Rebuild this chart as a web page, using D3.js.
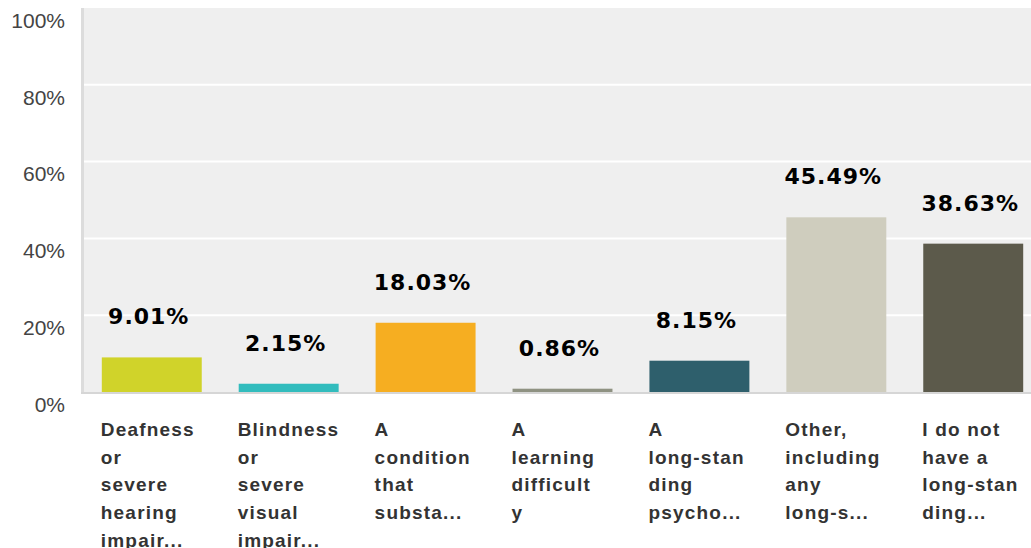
<!DOCTYPE html>
<html>
<head>
<meta charset="utf-8">
<script src="https://cdn.jsdelivr.net/npm/d3@7"></script>
<style>
  body { margin: 0; background: #fff; }
  .ytick { font-family: "Liberation Sans", Arial, sans-serif; font-size: 21px; fill: #444; }
  .val { font-family: "DejaVu Sans", sans-serif; font-weight: bold; font-size: 22px; fill: #000; letter-spacing: 1px; }
  .cat { font-family: "Liberation Sans", Arial, sans-serif; font-weight: bold; font-size: 19px; fill: #333; letter-spacing: 1.2px; }
</style>
</head>
<body>
<div class="graph"></div>
<script>
var categories = [
  ["Deafness", "or", "severe", "hearing", "impair..."],
  ["Blindness", "or", "severe", "visual", "impair..."],
  ["A", "condition", "that", "substa..."],
  ["A", "learning", "difficult", "y"],
  ["A", "long-stan", "ding", "psycho..."],
  ["Other,", "including", "any", "long-s..."],
  ["I do not", "have a", "long-stan", "ding..."]
];
var values = [9.01, 2.15, 18.03, 0.86, 8.15, 45.49, 38.63];
var colors = ["#d0d32a", "#32bcbd", "#f6ae21", "#8f9282", "#2e5f6c", "#cfcdbe", "#5c5a4b"];
var yTicks = [0, 20, 40, 60, 80, 100];

var options = { width: 1031, height: 548 },
    plot = { left: 84, top: 8, bottom: 392, right: 1031 };

var svg = d3.select(".graph").append("svg")
    .attr("width", options.width)
    .attr("height", options.height);

var yScale = d3.scaleLinear()
    .domain([0, 100])
    .range([plot.bottom, plot.top]);

var xScale = d3.scaleBand()
    .domain(d3.range(values.length))
    .range([plot.left, plot.left + 957])
    .paddingInner(0.27)
    .paddingOuter(0.13);

// background
svg.append("rect")
    .attr("x", plot.left)
    .attr("y", plot.top)
    .attr("width", plot.right - plot.left)
    .attr("height", plot.bottom - plot.top)
    .attr("fill", "#efefef");

// gridlines
svg.selectAll("line.grid")
    .data(yTicks.filter(function(d) { return d > 0 && d < 100; }))
  .enter().append("line")
    .attr("class", "grid")
    .attr("x1", plot.left)
    .attr("x2", plot.right)
    .attr("y1", function(d) { return yScale(d); })
    .attr("y2", function(d) { return yScale(d); })
    .attr("stroke", "#fff")
    .attr("stroke-width", 2);

// y axis labels
var yAxis = d3.axisLeft(yScale)
    .tickValues(yTicks)
    .tickSize(0)
    .tickPadding(0)
    .tickFormat(function(d) { return d + "%"; });

var yg = svg.append("g")
    .attr("transform", "translate(65,12.5)")
    .call(yAxis);
yg.attr("font-size", null).attr("font-family", null);
yg.select(".domain").remove();
yg.selectAll("text")
    .attr("class", "ytick")
    .attr("fill", null);

// bars
svg.selectAll("rect.bar")
    .data(values)
  .enter().append("rect")
    .attr("class", "bar")
    .attr("x", function(d, i) { return xScale(i); })
    .attr("width", xScale.bandwidth())
    .attr("y", function(d) { return yScale(d); })
    .attr("height", function(d) { return plot.bottom - yScale(d); })
    .attr("fill", function(d, i) { return colors[i]; });

// axis lines
svg.append("rect")
    .attr("x", 81).attr("y", plot.top)
    .attr("width", 3).attr("height", plot.bottom - plot.top + 1)
    .attr("fill", "#dcdcdc");
svg.append("rect")
    .attr("x", 81).attr("y", plot.bottom)
    .attr("width", plot.right - 81).attr("height", 2)
    .attr("fill", "#d6d6d6");

// value labels
svg.selectAll("text.val")
    .data(values)
  .enter().append("text")
    .attr("class", "val")
    .attr("x", function(d, i) { return xScale(i) + xScale.bandwidth() / 2 - 3; })
    .attr("y", function(d) { return yScale(d) - 33; })
    .attr("text-anchor", "middle")
    .text(function(d) { return d.toFixed(2) + "%"; });

// category labels
var cats = svg.selectAll("text.cat")
    .data(categories)
  .enter().append("text")
    .attr("class", "cat")
    .attr("x", function(d, i) { return xScale(i) - 1; })
    .attr("y", 436);

cats.selectAll("tspan")
    .data(function(d) { return d; })
  .enter().append("tspan")
    .attr("x", function() { return d3.select(this.parentNode).attr("x"); })
    .attr("dy", function(d, j) { return j === 0 ? 0 : 27.7; })
    .text(function(d) { return d; });
</script>
</body>
</html>
